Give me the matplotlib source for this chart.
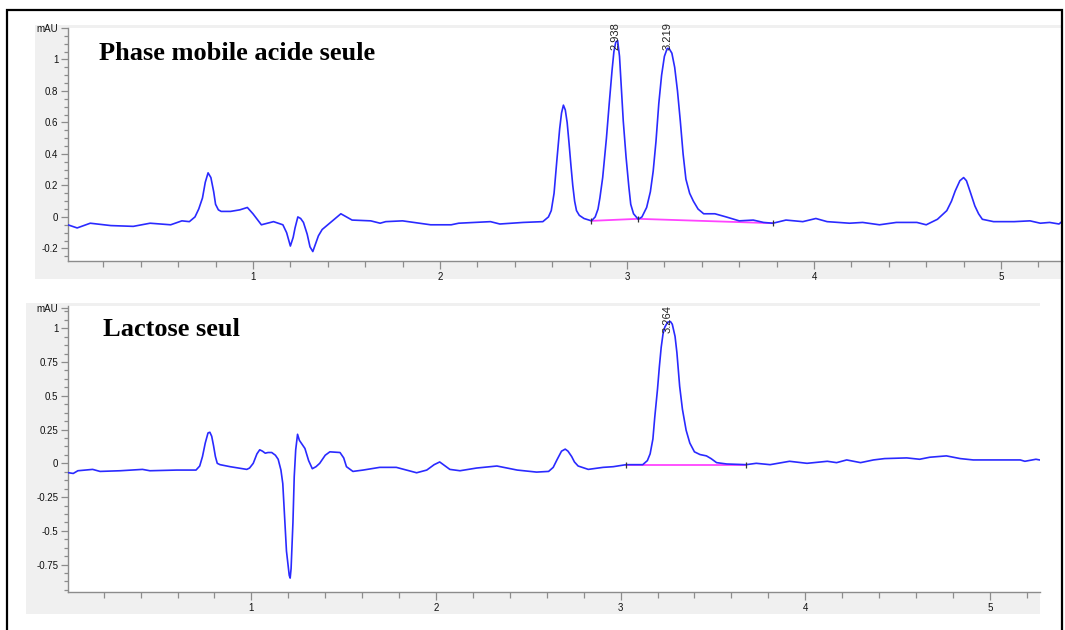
import matplotlib
matplotlib.use("Agg")
import matplotlib.pyplot as plt
from matplotlib.patches import Rectangle
from matplotlib.ticker import MultipleLocator, FixedLocator, FixedFormatter

# ---------------- data ----------------
top_t = [0.01, 0.06, 0.13, 0.24, 0.36, 0.45, 0.56, 0.62, 0.66, 0.69, 0.71, 0.73, 0.745, 0.76,
         0.775, 0.79, 0.80, 0.815, 0.83, 0.88, 0.93, 0.97, 1.0, 1.045, 1.11, 1.16, 1.18, 1.20,
         1.215, 1.225, 1.24, 1.255, 1.27, 1.29, 1.305, 1.32, 1.335, 1.35, 1.37, 1.42, 1.47,
         1.53, 1.63, 1.68, 1.71, 1.80, 1.95, 2.06, 2.10, 2.27, 2.32, 2.445, 2.55, 2.58, 2.595,
         2.61, 2.625, 2.64, 2.65, 2.66, 2.67, 2.68, 2.69, 2.70, 2.71, 2.72, 2.73, 2.745, 2.77,
         2.81, 2.83, 2.845, 2.855, 2.87, 2.89, 2.905, 2.92, 2.93, 2.94, 2.95, 2.96, 2.97, 2.98,
         2.995, 3.01, 3.02, 3.035, 3.06, 3.08, 3.105, 3.125, 3.14, 3.155, 3.17, 3.185, 3.20,
         3.215, 3.225, 3.24, 3.255, 3.27, 3.285, 3.30, 3.315, 3.335, 3.355, 3.38, 3.41, 3.47,
         3.53, 3.60, 3.675, 3.73, 3.78, 3.85, 3.94, 4.01, 4.07, 4.19, 4.26, 4.35, 4.44, 4.55,
         4.60, 4.66, 4.71, 4.735, 4.755, 4.78, 4.80, 4.815, 4.835, 4.86, 4.88, 4.90, 4.96, 5.07,
         5.155, 5.21, 5.26, 5.31, 5.32]
top_v = [-0.05, -0.07, -0.04, -0.055, -0.06, -0.04, -0.05, -0.025, -0.03, 0.0, 0.05, 0.12, 0.22, 0.28,
         0.25, 0.16, 0.08, 0.045, 0.035, 0.035, 0.045, 0.06, 0.02, -0.05, -0.03, -0.05, -0.10, -0.185,
         -0.13, -0.07, 0.0, -0.01, -0.035, -0.11, -0.19, -0.22, -0.17, -0.12, -0.08, -0.03, 0.02,
         -0.02, -0.025, -0.04, -0.03, -0.025, -0.05, -0.05, -0.04, -0.03, -0.045, -0.035, -0.03, 0.0, 0.04,
         0.15, 0.36, 0.56, 0.66, 0.71, 0.68, 0.60, 0.47, 0.33, 0.20, 0.10, 0.04, 0.01, -0.01,
         -0.025, 0.0, 0.05, 0.12, 0.25, 0.50, 0.72, 0.93, 1.05, 1.11, 1.12, 1.02, 0.82, 0.61,
         0.38, 0.19, 0.08, 0.02, -0.015, 0.0, 0.06, 0.16, 0.29, 0.48, 0.72, 0.90, 1.02,
         1.07, 1.07, 1.04, 0.95, 0.80, 0.61, 0.40, 0.24, 0.15, 0.10, 0.05, 0.02, 0.02,
         0.0, -0.025, -0.02, -0.035, -0.04, -0.02, -0.03, -0.01, -0.03, -0.04, -0.035, -0.05, -0.035, -0.035,
         -0.05, -0.015, 0.04, 0.10, 0.165, 0.23, 0.25, 0.23, 0.16, 0.07, 0.02, -0.015, -0.03, -0.03,
         -0.025, -0.04, -0.035, -0.045, -0.035]

top_base_t = [2.81, 3.06, 3.78]
top_base_v = [-0.025, -0.012, -0.04]
top_peak_t = [2.938, 3.219]
top_peak_lbl = ["2.938", "3.219"]

bot_t = [0.01, 0.035, 0.06, 0.14, 0.18, 0.29, 0.41, 0.45, 0.595, 0.70, 0.72, 0.735, 0.75, 0.765,
         0.775, 0.785, 0.795, 0.805, 0.815, 0.83, 0.885, 0.975, 0.99, 1.01, 1.03, 1.045, 1.06,
         1.075, 1.09, 1.11, 1.13, 1.145, 1.16, 1.17, 1.18, 1.19, 1.205, 1.21, 1.215, 1.225,
         1.232, 1.24, 1.25, 1.26, 1.27, 1.29, 1.31, 1.33, 1.35, 1.37, 1.40, 1.425, 1.48, 1.50,
         1.515, 1.55, 1.605, 1.695, 1.785, 1.895, 1.95, 1.99, 2.02, 2.05, 2.075, 2.13, 2.22,
         2.33, 2.44, 2.545, 2.61, 2.635, 2.655, 2.68, 2.70, 2.715, 2.735, 2.75, 2.77, 2.825,
         2.905, 2.96, 3.03, 3.12, 3.145, 3.16, 3.175, 3.185, 3.20, 3.21, 3.22, 3.23, 3.24,
         3.255, 3.27, 3.28, 3.295, 3.305, 3.32, 3.335, 3.355, 3.375, 3.40, 3.43, 3.465, 3.49,
         3.52, 3.575, 3.68, 3.735, 3.81, 3.915, 4.01, 4.12, 4.17, 4.225, 4.30, 4.37, 4.43,
         4.55, 4.62, 4.675, 4.765, 4.84, 4.91, 5.165, 5.19, 5.25, 5.27]
bot_v = [-0.07, -0.075, -0.055, -0.045, -0.06, -0.055, -0.045, -0.055, -0.05, -0.05, -0.02, 0.05, 0.15, 0.225,
         0.23, 0.20, 0.13, 0.05, 0.0, -0.01, -0.025, -0.045, -0.035, 0.0, 0.07, 0.10, 0.09,
         0.075, 0.08, 0.08, 0.06, 0.03, -0.05, -0.15, -0.40, -0.65, -0.83, -0.85, -0.78, -0.44,
         -0.10, 0.10, 0.215, 0.17, 0.15, 0.11, 0.02, -0.04, -0.025, 0.0, 0.06, 0.085, 0.08, 0.04,
         -0.025, -0.06, -0.05, -0.03, -0.03, -0.07, -0.05, -0.01, 0.01, -0.02, -0.045, -0.055, -0.035,
         -0.02, -0.05, -0.065, -0.06, -0.03, 0.025, 0.09, 0.105, 0.09, 0.05, 0.01, -0.02, -0.045,
         -0.03, -0.025, -0.01, -0.01, 0.02, 0.07, 0.18, 0.34, 0.55, 0.715, 0.86, 0.96, 1.01,
         1.045, 1.05, 1.03, 0.94, 0.82, 0.57, 0.40, 0.245, 0.15, 0.085, 0.065, 0.055, 0.035,
         0.005, -0.005, -0.01, 0.0, -0.01, 0.015, 0.0, 0.015, 0.005, 0.025, 0.005, 0.025, 0.035,
         0.04, 0.03, 0.045, 0.055, 0.035, 0.025, 0.025, 0.015, 0.03, 0.025]

bot_base_t = [3.03, 3.68]
bot_base_v = [-0.01, -0.01]
bot_peak_t = [3.253]
bot_peak_lbl = ["3.264"]

top_yticks = [-0.2, 0, 0.2, 0.4, 0.6, 0.8, 1, 1.2]
top_ylabels = ["-0.2", "0", "0.2", "0.4", "0.6", "0.8", "1", "mAU"]
bot_yticks = [-0.75, -0.5, -0.25, 0, 0.25, 0.5, 0.75, 1, 1.15]
bot_ylabels = ["-0.75", "-0.5", "-0.25", "0", "0.25", "0.5", "0.75", "1", "mAU"]
xticks = [1, 2, 3, 4, 5]
xlabels = ["1", "2", "3", "4", "5"]

top_title = "Phase mobile acide seule"
bot_title = "Lactose seul"

# ---------------- figure ----------------
W, H = 1065, 630
fig = plt.figure(figsize=(W / 100, H / 100), dpi=100)
fig.patch.set_facecolor("white")


def px_rect(x0, y0, x1, y1, **kw):
    return Rectangle((x0 / W, 1 - y1 / H), (x1 - x0) / W, (y1 - y0) / H,
                     transform=fig.transFigure, **kw)


# grey panels & outer frame
fig.patches.append(px_rect(35, 25, 1062, 279, facecolor="#f0f0f0", edgecolor="none", zorder=-5))
fig.patches.append(px_rect(26, 303, 1040, 614, facecolor="#f0f0f0", edgecolor="none", zorder=-5))
fig.patches.append(px_rect(7, 10, 1062, 660, facecolor="none", edgecolor="black", linewidth=1.6, zorder=10))

LINE = "#2a2aff"
BASE = "#ff44ff"
GREY = "#8c8c8c"
tick_font = {"family": ["Liberation Sans", "DejaVu Sans"], "size": 7}


def make_ax(x0, y0, x1, y1):
    ax = fig.add_axes([x0 / W, 1 - y1 / H, (x1 - x0) / W, (y1 - y0) / H], zorder=1)
    ax.set_facecolor("white")
    for s in ["top", "right"]:
        ax.spines[s].set_visible(False)
    for s in ["left", "bottom"]:
        ax.spines[s].set_color(GREY)
        ax.spines[s].set_linewidth(1.0)
    ax.tick_params(which="both", color=GREY, labelcolor="#111111", direction="out", pad=2)
    ax.tick_params(axis="x", which="major", length=6, width=0.9)
    ax.tick_params(axis="x", which="minor", length=4, width=0.9)
    ax.tick_params(axis="y", which="major", length=5, width=0.9)
    ax.tick_params(axis="y", which="minor", length=3, width=0.9)
    return ax


def draw(ax, t, v, bt, bv, pk_t, pk_lbl, pk_y, yt, yl, ylim, xlim, ystep, title, tx, ty):
    ax.plot(t, v, color=LINE, linewidth=1.2, zorder=3)
    ax.plot(bt, bv, color=BASE, linewidth=1.3, zorder=2)
    ax.plot(bt, bv, linestyle="none", marker="|", markersize=5, color="#333333",
            markeredgewidth=0.9, zorder=4)
    for pt, pl in zip(pk_t, pk_lbl):
        ax.text(pt, pk_y, pl, rotation=90, ha="center", va="bottom", fontsize=8,
                color="#222222", family=["Liberation Sans", "DejaVu Sans"], clip_on=False, zorder=5)
    ax.set_xlim(*xlim)
    ax.set_ylim(*ylim)
    ax.xaxis.set_major_locator(FixedLocator(xticks))
    ax.xaxis.set_major_formatter(FixedFormatter(xlabels))
    ax.xaxis.set_minor_locator(MultipleLocator(0.2))
    ax.yaxis.set_major_locator(FixedLocator(yt))
    ax.yaxis.set_major_formatter(FixedFormatter(yl))
    ax.yaxis.set_minor_locator(MultipleLocator(ystep))
    for lab in ax.get_xticklabels() + ax.get_yticklabels():
        lab.set_fontfamily(tick_font["family"])
        lab.set_fontsize(tick_font["size"])
    ax.text(tx, ty, title, transform=fig.transFigure, fontsize=19, fontweight="bold",
            family=["Liberation Serif", "DejaVu Serif"], ha="left", va="center", zorder=6)


ax1 = make_ax(68, 28, 1062, 261)
draw(ax1, top_t, top_v, top_base_t, top_base_v, top_peak_t, top_peak_lbl, 1.06,
     top_yticks, top_ylabels, (-0.28, 1.2), (0.011, 5.326), 0.05,
     top_title, 99 / W, 1 - 53 / H)

ax2 = make_ax(68, 306, 1040, 592)
draw(ax2, bot_t, bot_v, bot_base_t, bot_base_v, bot_peak_t, bot_peak_lbl, 0.965,
     bot_yticks, bot_ylabels, (-0.953, 1.165), (0.0065, 5.272), 0.0625,
     bot_title, 103 / W, 1 - 329 / H)

fig.savefig("out.png", dpi=100, facecolor="white")
